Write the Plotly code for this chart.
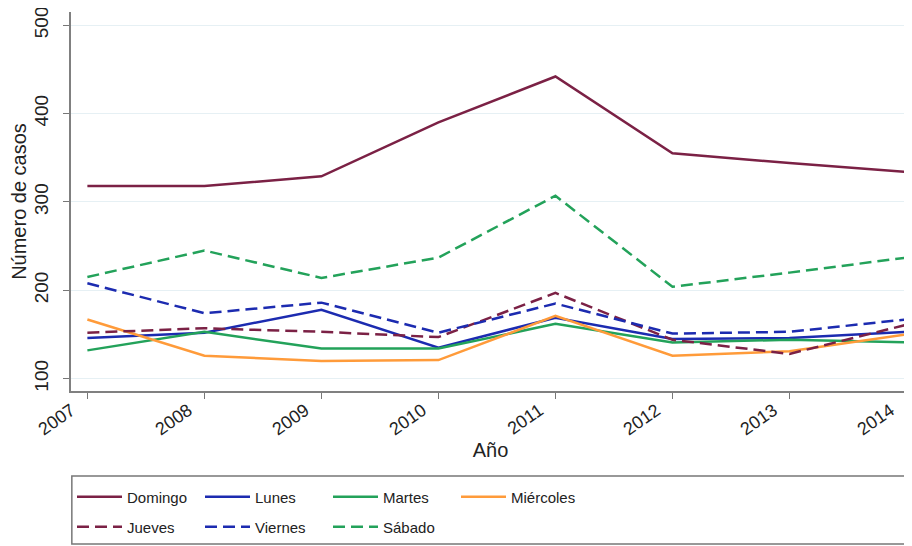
"""Número de casos por día de la semana, 2007-2014."""

import plotly.graph_objects as go

years = [2007, 2008, 2009, 2010, 2011, 2012, 2013, 2014]
year_labels = ["2007", "2008", "2009", "2010", "2011", "2012", "2013", "2014"]

domingo = [318, 318, 329, 390, 442, 355, 344, 334]
lunes = [146, 152, 178, 135, 169, 145, 146, 153]
martes = [132, 153, 134, 134, 162, 141, 144, 141]
miercoles = [167, 126, 120, 121, 171, 126, 131, 150]
jueves = [152, 157, 153, 147, 197, 144, 128, 161]
viernes = [208, 174, 186, 152, 185, 151, 153, 167]
sabado = [215, 245, 214, 237, 307, 204, 220, 237]

MAROON = "#7b2145"
BLUE = "#1c2bb0"
GREEN = "#23a25a"
ORANGE = "#ff9b3a"

series = [
    ("Domingo", domingo, MAROON, "solid", "legend"),
    ("Lunes", lunes, BLUE, "solid", "legend"),
    ("Martes", martes, GREEN, "solid", "legend"),
    ("Miércoles", miercoles, ORANGE, "solid", "legend"),
    ("Jueves", jueves, MAROON, "12px,6px", "legend2"),
    ("Viernes", viernes, BLUE, "12px,6px", "legend2"),
    ("Sábado", sabado, GREEN, "12px,6px", "legend2"),
]

fig = go.Figure()
for name, values, color, dash, leg in series:
    fig.add_scatter(
        x=years,
        y=values,
        mode="lines",
        name=name,
        line={"color": color, "width": 2.5, "dash": dash},
        legend=leg,
    )

family = "Liberation Sans, Arial, sans-serif"
# legends sit in container coordinates so they do not push the margins
legend_common = {
    "orientation": "h",
    "xref": "container",
    "yref": "container",
    "x": 0.0708,
    "xanchor": "left",
    "yanchor": "middle",
    "entrywidth": 68,
    "entrywidthmode": "pixels",
    "itemwidth": 45,
    "bgcolor": "rgba(0,0,0,0)",
    "font": {"family": family, "size": 15, "color": "#222222"},
    "traceorder": "normal",
}

# page body adds an 8px offset, so the figure is 8px smaller than the window
fig.update_layout(
    width=904,
    height=538,
    paper_bgcolor="white",
    plot_bgcolor="white",
    font={"family": family, "size": 18, "color": "#222222"},
    margin={"l": 63, "r": 2, "t": 4, "b": 155},
    legend={**legend_common, "y": 0.0911},
    legend2={**legend_common, "y": 0.0353},
    shapes=[
        {
            "type": "rect",
            "xref": "paper",
            "yref": "paper",
            "x0": 0.001,
            "x1": 0.994,
            "y0": -0.404,
            "y1": -0.224,
            "line": {"color": "#777777", "width": 1.5},
        }
    ],
)
fig.update_xaxes(
    range=[2006.86, 2014.03],
    tickvals=years,
    ticktext=year_labels,
    tickangle=-35,
    tickfont={"size": 18},
    ticklabelshift=-16,
    ticklabelstandoff=-6,
    ticklabeloverflow="allow",
    ticks="outside",
    ticklen=6,
    tickcolor="#777777",
    showline=True,
    linecolor="#808080",
    linewidth=2,
    showgrid=False,
    zeroline=False,
    automargin=False,
    title={"text": "Año", "font": {"size": 20}, "standoff": 5},
)
fig.update_yaxes(
    range=[86, 515],
    tickvals=[100, 200, 300, 400, 500],
    tickangle=-90,
    tickfont={"size": 19},
    ticklabelstandoff=7,
    ticklabeloverflow="allow",
    ticks="outside",
    ticklen=6,
    tickcolor="#777777",
    showline=True,
    linecolor="#808080",
    linewidth=2,
    gridcolor="#e6f0f4",
    gridwidth=1,
    zeroline=False,
    automargin=False,
    title={"text": "Número de casos", "font": {"size": 20}, "standoff": 0},
)

fig.write_html("out.html")
